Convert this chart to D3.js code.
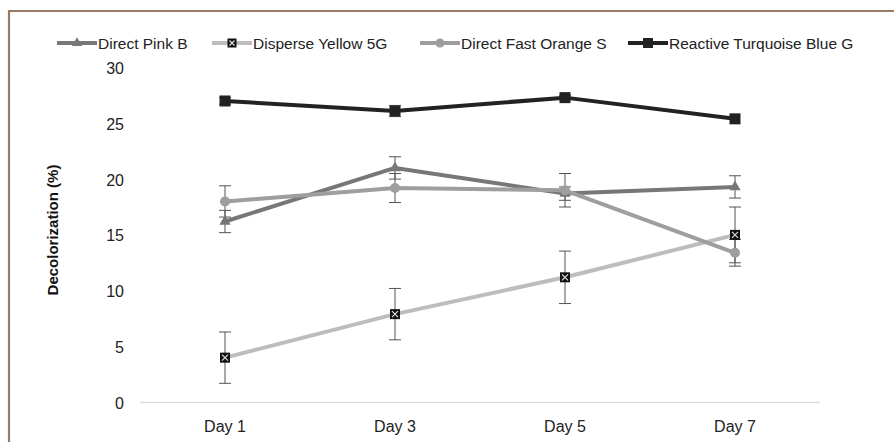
<!DOCTYPE html>
<html><head><meta charset="utf-8">
<script src="https://cdn.jsdelivr.net/npm/d3@7"></script>
<style>body{margin:0;background:#fff;} svg{display:block;font-family:"Liberation Sans",Arial,sans-serif;}</style>
</head><body>
<svg id="chart" width="894" height="442"></svg>
<script>
const days = ["Day 1","Day 3","Day 5","Day 7"];
const seriesNames = ["Direct Pink B","Disperse Yellow 5G","Direct Fast Orange S","Reactive Turquoise Blue G"];
const pinkValues = [16.2, 21.0, 18.7, 19.3];
const pinkErrors = [1.0, 1.0, 0.6, 1.0];
const yellowValues = [4.0, 7.9, 11.2, 15.0];
const yellowErrors = [2.3, 2.3, 2.35, 2.5];
const orangeValues = [18.0, 19.2, 19.0, 13.4];
const orangeErrors = [1.4, 1.3, 1.5, 1.2];
const turquoiseValues = [27.0, 26.1, 27.3, 25.4];
const turquoiseErrors = [0.3, 0.5, 0.2, 0.1];
const yTicks = [0, 5, 10, 15, 20, 25, 30];

const series = [
  {name: seriesNames[0], values: pinkValues, errors: pinkErrors, color: "#777777", marker: "triangle"},
  {name: seriesNames[1], values: yellowValues, errors: yellowErrors, color: "#bdbdbd", marker: "xsquare"},
  {name: seriesNames[2], values: orangeValues, errors: orangeErrors, color: "#9e9e9e", marker: "circle"},
  {name: seriesNames[3], values: turquoiseValues, errors: turquoiseErrors, color: "#222222", marker: "square"}
];

const svg = d3.select("#chart");
// frame
svg.append("path").attr("d", "M9,442 L9,11 L894,11").attr("fill","none").attr("stroke","#9c7b65").attr("stroke-width",2.2);

const x = d3.scalePoint().domain(days).range([140, 820]).padding(0.5);
const y = d3.scaleLinear().domain([0, 30]).range([402.3, 67.5]);

// x baseline
svg.append("line").attr("x1",140).attr("x2",820).attr("y1",y(0)).attr("y2",y(0)).attr("stroke","#dcdcdc").attr("stroke-width",1.3);

// y tick labels
svg.selectAll(".yt").data(yTicks).join("text").attr("x",124).attr("y",d=>y(d)).attr("dy","0.4em")
  .attr("text-anchor","end").attr("font-size",16).attr("fill","#222").text(d=>d);
// x tick labels
svg.selectAll(".xt").data(days).join("text").attr("x",d=>x(d)).attr("y",432).attr("text-anchor","middle")
  .attr("font-size",16).attr("fill","#222").text(d=>d);
// y title
svg.append("text").attr("transform","translate(58,230) rotate(-90)").attr("text-anchor","middle")
  .attr("font-size",15).attr("font-weight","bold").attr("fill","#111").text("Decolorization (%)");

const line = d3.line().x((d,i)=>x(days[i])).y(d=>y(d));

function drawMarker(g, type, cx, cy, color, size){
  if(type==="triangle"){
    g.append("path").attr("d", d3.symbol(d3.symbolTriangle, size*size*0.55)()).attr("transform",`translate(${cx},${cy})`).attr("fill",color);
  } else if(type==="circle"){
    g.append("circle").attr("cx",cx).attr("cy",cy).attr("r",size/2).attr("fill",color);
  } else if(type==="square"){
    g.append("rect").attr("x",cx-size/2).attr("y",cy-size/2).attr("width",size).attr("height",size).attr("fill",color);
  } else if(type==="xsquare"){
    g.append("rect").attr("x",cx-size/2).attr("y",cy-size/2).attr("width",size).attr("height",size).attr("fill","#111");
    const h=size/2-2;
    g.append("path").attr("d",`M${cx-h},${cy-h}L${cx+h},${cy+h}M${cx-h},${cy+h}L${cx+h},${cy-h}`).attr("stroke","#ddd").attr("stroke-width",1.2);
  }
}

// lines
series.forEach(s=>{
  svg.append("path").datum(s.values).attr("d",line).attr("fill","none").attr("stroke",s.color).attr("stroke-width",4).attr("stroke-linejoin","round");
});
// error bars
series.forEach(s=>{
  const g = svg.append("g").attr("stroke","#555").attr("stroke-width",1);
  s.values.forEach((v,i)=>{
    const cx = x(days[i]), e = s.errors[i];
    if(e<=0.15) return;
    g.append("line").attr("x1",cx).attr("x2",cx).attr("y1",y(v-e)).attr("y2",y(v+e));
    g.append("line").attr("x1",cx-6).attr("x2",cx+6).attr("y1",y(v-e)).attr("y2",y(v-e));
    g.append("line").attr("x1",cx-6).attr("x2",cx+6).attr("y1",y(v+e)).attr("y2",y(v+e));
  });
});
// markers
series.forEach(s=>{
  const g = svg.append("g");
  s.values.forEach((v,i)=>drawMarker(g, s.marker, x(days[i]), y(v), s.color, s.marker==="square"?11:10));
});

// legend
const legendX = [57, 212, 420, 628];
series.forEach((s,i)=>{
  const g = svg.append("g").attr("transform",`translate(${legendX[i]},43)`);
  g.append("line").attr("x1",0).attr("x2",40).attr("y1",0).attr("y2",0).attr("stroke",s.color).attr("stroke-width",4);
  drawMarker(g, s.marker, 20, 0, s.color, s.marker==="square"?10:9);
  g.append("text").attr("x",41).attr("y",0).attr("dy","0.36em").attr("font-size",15.5).attr("fill","#222").text(s.name);
});
</script>
</body></html>
